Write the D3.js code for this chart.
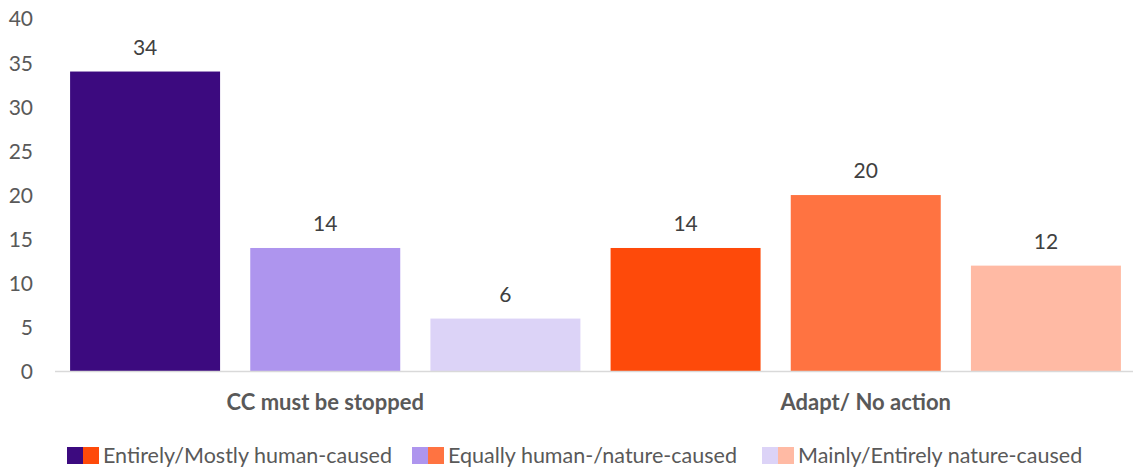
<!DOCTYPE html>
<html>
<head>
<meta charset="utf-8">
<script src="https://cdn.jsdelivr.net/npm/d3@7"></script>
<style>
  html, body { margin: 0; padding: 0; background: #fff; }
  svg { display: block; font-family: Lato, "Liberation Sans", sans-serif; }
</style>
</head>
<body>
<svg id="chart" width="1133" height="468"></svg>
<script>
// Response categories (x axis groups)
const categories = ["CC must be stopped", "Adapt/ No action"];
// Attribution of climate change (legend entries)
const seriesNames = ["Entirely/Mostly human-caused", "Equally human-/nature-caused", "Mainly/Entirely nature-caused"];
// Percentages per category, one entry per series
const stoppedValues = [34, 14, 6];
const adaptValues = [14, 20, 12];
// Y axis ticks
const yTicks = [0, 5, 10, 15, 20, 25, 30, 35, 40];
// Fill colours: purple shades for the first category, orange shades for the second
const purpleShades = ["#3c0a7f", "#ae95ee", "#dcd3f7"];
const orangeShades = ["#fe4a0a", "#ff7341", "#ffbaa4"];

const valuesByCategory = [stoppedValues, adaptValues];
const colorsByCategory = [purpleShades, orangeShades];

const svg = d3.select("#chart");
const plot = { left: 55, right: 1136, top: 18.6, bottom: 371.5 };

const x0 = d3.scaleBand().domain(categories).range([plot.left, plot.right]).padding(0);
const x1 = d3.scaleBand().domain(d3.range(seriesNames.length))
  .range([0, x0.bandwidth()]).paddingInner(0.1675).paddingOuter(0.1675 / 2);
const y = d3.scaleLinear().domain([0, 40]).range([plot.bottom, plot.top]);

// Y axis labels (no axis line or ticks)
const yAxis = d3.axisLeft(y).tickValues(yTicks).tickSize(0).tickPadding(0);
svg.append("g")
  .attr("transform", "translate(33,0)")
  .call(yAxis)
  .call(g => g.select(".domain").remove())
  .call(g => g.selectAll("text")
    .attr("fill", "#595959")
    .style("font-size", "21px")
    .style("font-family", "Lato, 'Liberation Sans', sans-serif")
    .attr("dy", "0.35em"));

// Bars and value labels
categories.forEach((cat, ci) => {
  const g = svg.append("g").attr("transform", `translate(${x0(cat)},0)`);
  const data = valuesByCategory[ci].map((v, i) => ({ v, i }));
  g.selectAll("rect").data(data).join("rect")
    .attr("x", d => x1(d.i))
    .attr("width", x1.bandwidth())
    .attr("y", d => y(d.v))
    .attr("height", d => y(0) - y(d.v))
    .attr("fill", d => colorsByCategory[ci][d.i]);
  g.selectAll("text").data(data).join("text")
    .attr("x", d => x1(d.i) + x1.bandwidth() / 2)
    .attr("y", d => y(d.v) - 17)
    .attr("text-anchor", "middle")
    .attr("fill", "#404040")
    .style("font-size", "21px")
    .text(d => d.v);
});

// Baseline
svg.append("line")
  .attr("x1", plot.left).attr("x2", plot.right)
  .attr("y1", y(0)).attr("y2", y(0))
  .attr("stroke", "#d9d9d9").attr("stroke-width", 1.3);

// Category labels
const xAxis = d3.axisBottom(x0).tickSize(0).tickPadding(0);
svg.append("g")
  .attr("transform", `translate(0,${y(0)})`)
  .call(xAxis)
  .call(g => g.select(".domain").remove())
  .call(g => g.selectAll("text")
    .attr("y", 38)
    .attr("dy", 0)
    .attr("fill", "#595959")
    .style("font-size", "22px")
    .style("font-weight", "bold")
    .style("font-family", "Lato, 'Liberation Sans', sans-serif"));

// Legend: each entry shows the purple and orange shade side by side
const legendX = [67, 412, 762];
const legend = svg.append("g");
seriesNames.forEach((name, i) => {
  const lg = legend.append("g").attr("transform", `translate(${legendX[i]},447)`);
  lg.append("rect").attr("x", 0).attr("y", 0).attr("width", 16).attr("height", 17).attr("fill", purpleShades[i]);
  lg.append("rect").attr("x", 16).attr("y", 0).attr("width", 16).attr("height", 17).attr("fill", orangeShades[i]);
  lg.append("text")
    .attr("x", 36).attr("y", 16)
    .attr("fill", "#595959")
    .style("font-size", "21.5px")
    .text(name);
});
</script>
</body>
</html>
